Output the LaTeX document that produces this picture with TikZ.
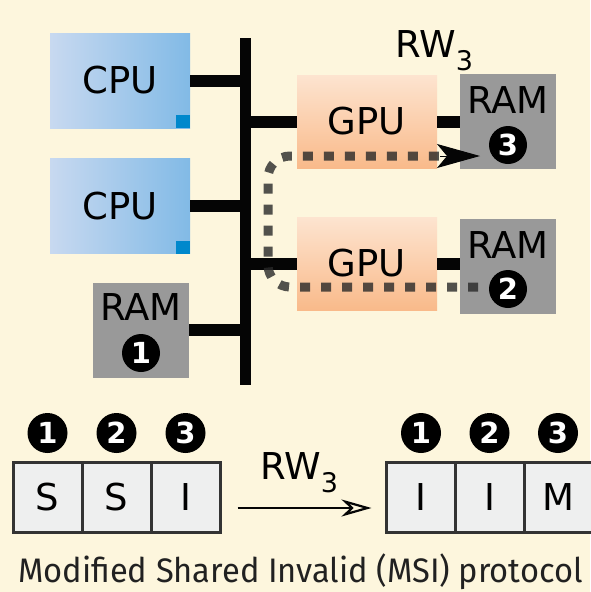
\documentclass[tikz,border=0pt]{standalone}
\usepackage{fontspec}
\setmainfont{DejaVu Sans}
\newfontfamily\capfont[FakeStretch=0.96]{Fira Sans}
\usetikzlibrary{arrows.meta}
\definecolor{bgcream}{RGB}{253,246,221}
\definecolor{cpuLight}{RGB}{200,217,240}
\definecolor{cpuDark}{RGB}{130,186,230}
\definecolor{cpuEdge}{RGB}{0,136,204}
\definecolor{gpuLight}{RGB}{253,228,208}
\definecolor{gpuMid}{RGB}{252,218,192}
\definecolor{gpuDark}{RGB}{249,186,138}
\definecolor{ramgray}{RGB}{153,153,153}
\definecolor{busblack}{RGB}{5,5,5}
\definecolor{cellgray}{RGB}{238,239,239}
\definecolor{celledge}{RGB}{51,51,51}
\definecolor{walkgray}{RGB}{40,40,40}
\newcommand\lowidx[1]{\raisebox{-13pt}{\fontsize{27}{27}\selectfont #1}}
\begin{document}
\begin{tikzpicture}[x=1pt,y=-1pt,font=\fontsize{37}{40}\selectfont,
  cpu/.style={left color=cpuLight,right color=cpuDark,minimum width=140pt,minimum height=95pt,inner sep=0pt},
  gpu/.style={top color=gpuLight,middle color=gpuMid,bottom color=gpuDark,minimum width=140pt,minimum height=93pt,inner sep=0pt},
  ram/.style={fill=ramgray,minimum width=96pt,minimum height=95pt,inner sep=0pt},
  lbl/.style={inner sep=0pt},
  num/.style={text=white,inner sep=0pt,font=\bfseries\fontsize{29}{29}\selectfont},
  rwlbl/.style={font=\fontsize{37}{37}\selectfont,inner sep=0pt,anchor=base west},
  bus/.style={line width=11pt,draw=busblack},
  link/.style={line width=12pt,draw=busblack},
  cell/.style={draw=celledge,line width=3pt,fill=cellgray,minimum width=69pt,minimum height=70pt,inner sep=0pt},
  walk/.style={line width=9pt,draw=walkgray,draw opacity=0.8,dash pattern=on 10pt off 11pt,rounded corners=22pt},
  walktip/.style={draw=busblack,line width=1pt,-{Stealth[length=43pt,width=24pt,inset=10pt]}},
  trans/.style={line width=2.2pt,draw=busblack,-{Stealth[open,length=30pt,width=17pt,inset=9pt]}}]
  \fill[bgcream] (0,0) rectangle (590,592);
  \useasboundingbox (0,0) rectangle (590,592);
  % machine
  \coordinate (busT) at (245,38);
  \coordinate (busB) at (245,385);
  \draw[bus] (busT) -- (busB);
  \node[cpu] (cpuA) at (120,80.5){};
  \fill[cpuEdge] (cpuA.south east) rectangle ++(-14,-13);
  \node[lbl] (cpuAtxt) at (120,80.5){CPU};
  \node[cpu] (cpuB) at (120,206){};
  \fill[cpuEdge] (cpuB.south east) rectangle ++(-14,-13);
  \node[lbl] (cpuBtxt) at (120,206){CPU};
  \node[ram] (ramA) at (141,330){};
  \node[lbl] (ramAtxt) at (141,307.5){RAM};
  \node[gpu] (gpuA) at (367,121.5){GPU};
  \node[gpu] (gpuB) at (367,263.5){GPU};
  \node[ram] (ramC) at (508,121.5){};
  \node[lbl] (ramCtxt) at (508,100){RAM};
  \node[ram] (ramB) at (508,266.5){};
  \node[lbl] (ramBtxt) at (508,245){RAM};
  \foreach \x/\y/\d/\nm in {141/353/1/numA,508/289/2/numB,508/145/3/numC}{
    \fill[black] (\x,\y) circle[radius=19];
    \node[num] (\nm) at (\x,\y){\d};
  }
  \draw[link] (cpuA.east) -- (cpuA.east -| busT);
  \draw[link] (cpuB.east) -- (cpuB.east -| busT);
  \draw[link] (ramA.east) -- (ramA.east -| busT);
  \draw[link] (gpuA.west) -- (gpuA.west -| busT);
  \draw[link] (gpuB.west) -- (gpuB.west -| busT);
  \draw[link] (gpuA.east) -- (gpuA.east -| ramC.west);
  \draw[link] (gpuB.east) -- (gpuB.east -| ramB.west);
  \node[rwlbl] (rwTop) at (395,57){RW\lowidx{3}};
  \coordinate (walkS) at (478,287);
  \coordinate (walkE) at (480,156);
  \draw[walk] (walkS) -- (268,287) -- (268,156) -- (452,156);
  \draw[walktip] (440,156) -- (walkE);
  % MSI states
  \node[cell] (cellA1) at (47.5,497){S};
  \node[cell] (cellA2) at (116.5,497){S};
  \node[cell] (cellA3) at (185.5,497){I};
  \node[cell] (cellB1) at (420.5,497){I};
  \node[cell] (cellB2) at (489.5,497){I};
  \node[cell] (cellB3) at (558.5,497){M};
  \foreach \x/\d/\nm in {47.5/1/stA1,116.5/2/stA2,185.5/3/stA3,421/1/stB1,489.5/2/stB2,558/3/stB3}{
    \fill[black] (\x,433) circle[radius=20];
    \node[num] (\nm) at (\x,433){\d};
  }
  \draw[trans] ([yshift=-11pt]cellA3.east) ++(16,0) -- ([yshift=-11pt,xshift=-13pt]cellB1.west);
  \node[rwlbl] (rwBot) at (260,479){RW\lowidx{3}};
  \node[font={\capfont\fontsize{34}{34}\selectfont},text=black!87,anchor=base west,inner sep=0pt] (proto) at (18,582){Modified Shared Invalid (MSI) protocol};
\end{tikzpicture}
\end{document}
